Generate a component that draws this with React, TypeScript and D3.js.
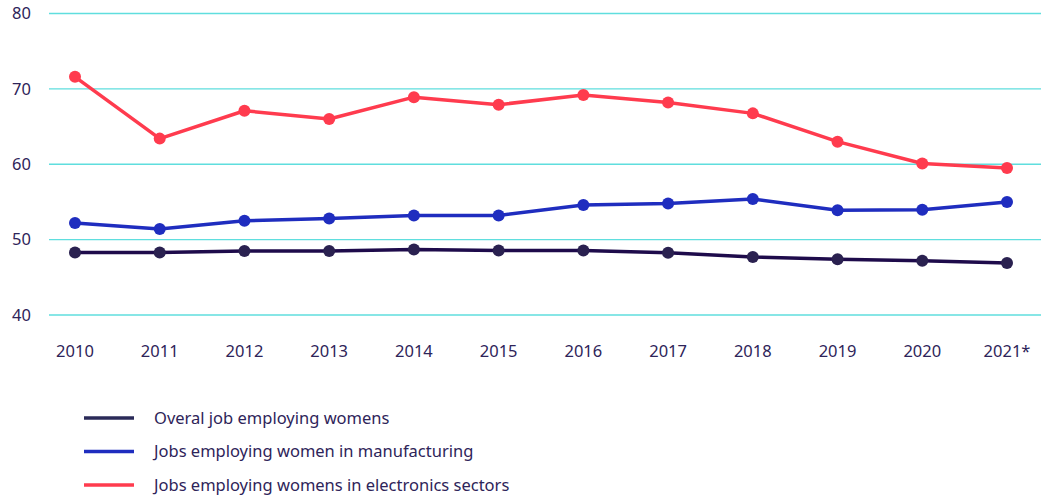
import React from "react";
import * as d3 from "d3";

const years = ["2010", "2011", "2012", "2013", "2014", "2015", "2016", "2017", "2018", "2019", "2020", "2021*"];
const overall = [48.3, 48.3, 48.5, 48.5, 48.7, 48.55, 48.55, 48.25, 47.7, 47.4, 47.2, 46.9];
const manufacturing = [52.2, 51.4, 52.5, 52.8, 53.2, 53.2, 54.6, 54.8, 55.4, 53.9, 53.95, 55.0];
const electronics = [71.6, 63.4, 67.1, 66.0, 68.9, 67.9, 69.2, 68.2, 66.75, 63.0, 60.1, 59.5];
const yTicks = [40, 50, 60, 70, 80];
const seriesNames = [
  "Overal job employing womens",
  "Jobs employing women in manufacturing",
  "Jobs employing womens in electronics sectors",
];

const W = 1041;
const H = 501;
const font = "'Noto Sans', 'Open Sans', sans-serif";
const textColor = "#2e2459";

const series = [
  { name: seriesNames[0], values: overall, line: "#1e0b4b", dot: "#2a2150", leg: "#2a2a58" },
  { name: seriesNames[1], values: manufacturing, line: "#1f2dbf", dot: "#1f2dbf", leg: "#1f2dbf" },
  { name: seriesNames[2], values: electronics, line: "#ff3b4e", dot: "#ff3b4e", leg: "#ff3b4e" },
];

export default function App() {
  const x = d3.scalePoint<string>().domain(years).range([75, 1007]);
  const y = d3.scaleLinear().domain([40, 80]).range([315, 13.5]);
  const line = d3
    .line<number>()
    .x((_, i) => x(years[i]) as number)
    .y((d) => y(d));

  return (
    <svg
      width={W}
      height={H}
      style={{ position: "absolute", left: 0, top: 0, background: "#fff" }}
      fontFamily={font}
    >
      {yTicks.map((t) => (
        <g key={t}>
          <line x1={49} x2={W} y1={y(t)} y2={y(t)} stroke="#5fdede" strokeWidth={1.3} />
          <text x={31} y={y(t)} dy="0.35em" textAnchor="end" fontSize={16.5} fill={textColor}>
            {t}
          </text>
        </g>
      ))}
      {years.map((yr) => (
        <text key={yr} x={x(yr)} y={357} textAnchor="middle" fontSize={16.5} fill={textColor}>
          {yr}
        </text>
      ))}
      {series.map((s) => (
        <g key={s.name}>
          <path d={line(s.values) || ""} fill="none" stroke={s.line} strokeWidth={3.5} strokeLinejoin="round" />
          {s.values.map((v, i) => (
            <circle key={i} cx={x(years[i])} cy={y(v)} r={6} fill={s.dot} />
          ))}
        </g>
      ))}
      {series.map((s, i) => {
        const ly = 418 + i * 33.5;
        return (
          <g key={"leg" + i}>
            <line x1={84} x2={134} y1={ly} y2={ly} stroke={s.leg} strokeWidth={3.5} />
            <text x={154} y={ly} dy="0.35em" fontSize={16.5} fill={textColor}>
              {s.name}
            </text>
          </g>
        );
      })}
    </svg>
  );
}
